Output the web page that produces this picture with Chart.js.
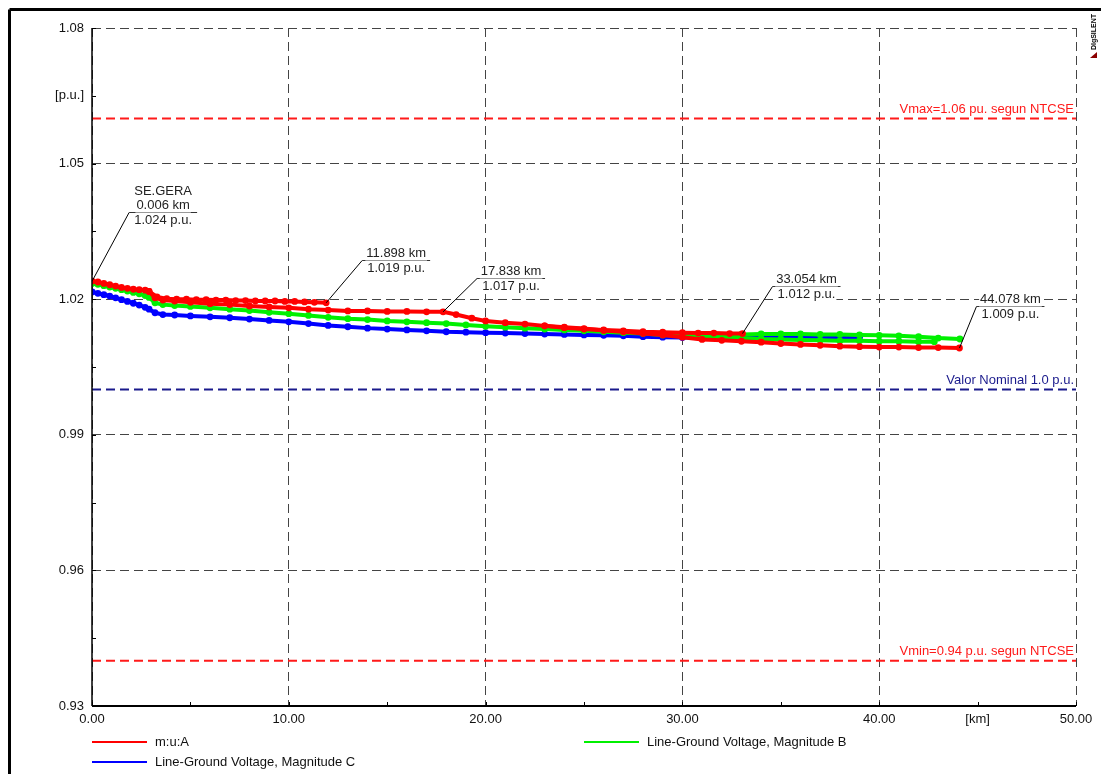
<!DOCTYPE html>
<html>
<head>
<meta charset="utf-8">
<script src="https://cdn.jsdelivr.net/npm/chart.js@4.4.0/dist/chart.umd.min.js"></script>
<style>
  html, body { margin: 0; padding: 0; background: #fff; }
  canvas { display: block; }
</style>
</head>
<body>
<canvas id="perfil" width="1101" height="774"></canvas>
<script>
// ---- data ----
// phase A (red) main feeder
var kmA = [0.006,0.3,0.6,0.9,1.2,1.5,1.8,2.1,2.4,2.7,2.9,3.2,3.6,4.2,5,6,7,8,9,10,11,12,13,14,15,16,17,17.838,18.5,19.3,20,21,22,23,24,25,26,27,28,29,30,31,32,33,34,35,36,37,38,39,40,41,42,43,44.078];
var puA = [1.024,1.0238,1.0235,1.0232,1.0229,1.0226,1.0224,1.0222,1.0221,1.0220,1.0217,1.0203,1.0198,1.0196,1.0193,1.0190,1.0188,1.0185,1.0183,1.0181,1.0178,1.0176,1.0174,1.0174,1.0173,1.0173,1.0172,1.0172,1.0166,1.0158,1.0152,1.0148,1.0145,1.0141,1.0138,1.0135,1.0131,1.0128,1.0124,1.0121,1.0116,1.0111,1.0109,1.0107,1.0105,1.0102,1.0100,1.0098,1.0096,1.0095,1.0094,1.0094,1.0093,1.0093,1.0092];
// phase A branches
var kmA1 = [2.9,3.3,3.8,4.3,4.8,5.3,5.8,6.3,6.8,7.3,7.8,8.3,8.8,9.3,9.8,10.3,10.8,11.3,11.898];
var puA1 = [1.0217,1.0205,1.0201,1.0200,1.0200,1.0199,1.0199,1.0198,1.0198,1.0197,1.0197,1.0196,1.0196,1.0196,1.0195,1.0195,1.0194,1.0193,1.0192];
var kmA2 = [23,24,25,26,27,28,29,30,30.8,31.6,32.4,33.054];
var puA2 = [1.0141,1.0137,1.0134,1.0132,1.0130,1.0128,1.0127,1.0126,1.0125,1.0125,1.0124,1.0124];

// phase B (green)
var kmB = [0.006,0.3,0.6,0.9,1.2,1.5,1.8,2.1,2.4,2.7,2.9,3.2,3.6,4.2,5,6,7,8,9,10,11,12,13,14,15,16,17,18,19,20,21,22,23,24,25,26,27,28,29,30,31,32,33,34,35,36,37,38,39,40,41,42,43,44.1];
var puB = [1.0235,1.0233,1.0230,1.0227,1.0224,1.0221,1.0218,1.0215,1.0212,1.0208,1.0204,1.0192,1.0188,1.0186,1.0184,1.0181,1.0178,1.0175,1.0171,1.0168,1.0164,1.0160,1.0157,1.0155,1.0152,1.0150,1.0148,1.0146,1.0143,1.0140,1.0138,1.0136,1.0134,1.0132,1.0130,1.0128,1.0126,1.0124,1.0121,1.0119,1.0119,1.0120,1.0122,1.0123,1.0123,1.0123,1.0122,1.0122,1.0121,1.0120,1.0119,1.0117,1.0114,1.0112];
var kmB1 = [31,32,33,34,35,36,37,38,39,40,41,42,42.8];
var puB1 = [1.0118,1.0116,1.0114,1.0112,1.0111,1.0110,1.0109,1.0108,1.0108,1.0107,1.0107,1.0106,1.0106];

// phase C (blue)
var kmC = [0.006,0.3,0.6,0.9,1.2,1.5,1.8,2.1,2.4,2.7,2.9,3.2,3.6,4.2,5,6,7,8,9,10,11,12,13,14,15,16,17,18,19,20,21,22,23,24,25,26,27,28,29,30,31,32,33,34,35,36,37,38,39];
var puC = [1.0216,1.0213,1.0210,1.0207,1.0203,1.0199,1.0195,1.0191,1.0187,1.0182,1.0178,1.0170,1.0166,1.0165,1.0163,1.0161,1.0159,1.0156,1.0153,1.0150,1.0146,1.0142,1.0139,1.0136,1.0134,1.0132,1.0130,1.0128,1.0127,1.0126,1.0125,1.0124,1.0123,1.0122,1.0121,1.0120,1.0119,1.0117,1.0116,1.0115,1.0115,1.0116,1.0117,1.0117,1.0117,1.0117,1.0116,1.0116,1.0116];

var seriesNames = ['m:u:A', 'Line-Ground Voltage, Magnitude B', 'Line-Ground Voltage, Magnitude C'];
var seriesColors = ['#ff0000', '#00f000', '#0000ff'];

// limits
var refLevels = [1.06, 1.0, 0.94];
var refLabels = ['Vmax=1.06 pu. segun NTCSE', 'Valor Nominal 1.0 p.u.', 'Vmin=0.94 p.u. segun NTCSE'];
var refColors = ['#ff1a1a', '#1a1a8c', '#ff1a1a'];

// labelled nodes
var annKm = [0.006, 11.898, 17.838, 33.054, 44.078];
var annPu = [1.024, 1.0192, 1.0172, 1.0124, 1.0092];
var annName = ['SE.GERA', '', '', '', ''];

// axis
var xMin = 0, xMax = 50, xStep = 5;
var yMin = 0.93, yMax = 1.08, yStep = 0.015;
var xUnit = '[km]', yUnit = '[p.u.]';

var FONT = '"Liberation Sans", Arial, sans-serif';
Chart.defaults.font.family = FONT;
Chart.defaults.font.size = 13;
Chart.defaults.color = '#111';

function pts(km, pu)
{
	return km.map(function(k, i) { return { x: k, y: pu[i] }; });
}

function trace(km, pu, color)
{
	return {
		data: pts(km, pu),
		borderColor: color,
		backgroundColor: color,
		borderWidth: 4,
		pointRadius: 3.4,
		pointBorderWidth: 0,
		pointBackgroundColor: color,
		pointHoverRadius: 0
	};
}

function refLine(v, color)
{
	return {
		data: [{ x: xMin, y: v }, { x: xMax, y: v }],
		borderColor: color,
		borderWidth: 2,
		borderDash: [9, 5],
		pointRadius: 0
	};
}

var datasets = [
	trace(kmA, puA, seriesColors[0]),
	trace(kmA1, puA1, seriesColors[0]),
	trace(kmA2, puA2, seriesColors[0]),
	trace(kmB, puB, seriesColors[1]),
	trace(kmB1, puB1, seriesColors[1]),
	trace(kmC, puC, seriesColors[2])
];
refLevels.forEach(function(v, i) { datasets.push(refLine(v, refColors[i])); });

function isMajorY(v) { return Math.round((v - yMin) * 1000) % 30 === 0; }
function isMajorX(v) { return Math.round(v) % 10 === 0; }

function line(ctx, x1, y1, x2, y2)
{
	ctx.beginPath(); ctx.moveTo(x1, y1); ctx.lineTo(x2, y2); ctx.stroke();
}

function boxText(ctx, txt, cx, cy)
{
	var w = ctx.measureText(txt).width;
	ctx.fillStyle = '#fff';
	ctx.fillRect(cx - w / 2 - 1, cy - 7, w + 2, 14);
	ctx.fillStyle = '#222';
	ctx.fillText(txt, cx, cy);
}

// extra drawing: axes, limits labels, node labels, legend, frame
var decor = {
	id: 'decor',
	afterDraw: function(chart)
	{
		var ctx = chart.ctx, a = chart.chartArea, xs = chart.scales.x, ys = chart.scales.y;
		ctx.save();
		ctx.setLineDash([]);
		ctx.strokeStyle = '#000';

		// axis lines
		ctx.lineWidth = 1.5;
		line(ctx, a.left, a.top, a.left, a.bottom);
		ctx.lineWidth = 2;
		line(ctx, a.left, a.bottom, a.right, a.bottom);

		// inner tick marks
		ctx.lineWidth = 1;
		ys.ticks.forEach(function(t) {
			var py = Math.round(ys.getPixelForValue(t.value)) + 0.5;
			line(ctx, a.left, py, a.left + 4, py);
		});
		xs.ticks.forEach(function(t) {
			var px = Math.round(xs.getPixelForValue(t.value)) + 0.5;
			line(ctx, px, a.bottom, px, a.bottom - 4);
		});

		// limit labels
		ctx.font = '13px ' + FONT;
		ctx.textAlign = 'right';
		ctx.textBaseline = 'middle';
		refLevels.forEach(function(v, i) {
			ctx.fillStyle = refColors[i];
			ctx.fillText(refLabels[i], a.right - 2, ys.getPixelForValue(v) - 9);
		});

		// node labels with leader lines
		var off = [[37, -69], [36, -43], [34, -34], [30, -48], [17, -42]];
		var uw = 68;
		ctx.textAlign = 'center';
		annKm.forEach(function(k, i) {
			var px = xs.getPixelForValue(k), py = ys.getPixelForValue(annPu[i]);
			var ux = px + off[i][0], uy = Math.round(py + off[i][1]) + 0.5;
			ctx.strokeStyle = '#000';
			ctx.lineWidth = 1;
			line(ctx, px, py, ux, uy);
			ctx.strokeStyle = '#333';
			line(ctx, ux, uy, ux + uw, uy);
			var cx = ux + uw / 2;
			boxText(ctx, k.toFixed(3) + ' km', cx, uy - 7);
			boxText(ctx, annPu[i].toFixed(3) + ' p.u.', cx, uy + 8);
			if (annName[i]) boxText(ctx, annName[i], cx, uy - 21);
		});

		// legend
		var lg = [[92, 742], [584, 742], [92, 762]];
		ctx.textAlign = 'left';
		ctx.lineWidth = 2;
		seriesNames.forEach(function(n, i) {
			ctx.strokeStyle = seriesColors[i];
			line(ctx, lg[i][0], lg[i][1], lg[i][0] + 55, lg[i][1]);
			ctx.fillStyle = '#111';
			ctx.fillText(n, lg[i][0] + 63, lg[i][1]);
		});

		// outer frame
		ctx.strokeStyle = '#000';
		ctx.lineWidth = 3;
		line(ctx, 9.5, 9.5, 1101, 9.5);
		line(ctx, 9.5, 9.5, 9.5, 774);

		// logo
		ctx.save();
		ctx.translate(1094, 32);
		ctx.rotate(-Math.PI / 2);
		ctx.font = 'bold 7px ' + FONT;
		ctx.textAlign = 'center';
		ctx.fillStyle = '#000';
		ctx.fillText('DIgSILENT', 0, 0);
		ctx.restore();
		ctx.fillStyle = '#8b0000';
		ctx.beginPath();
		ctx.moveTo(1097, 52); ctx.lineTo(1097, 58); ctx.lineTo(1090, 58); ctx.closePath();
		ctx.fill();

		ctx.restore();
	}
};

var gridDash = [9, 5];

var config =
{
	type: 'line',
	data: { datasets: datasets },
	plugins: [decor],
	options:
	{
		responsive: false,
		animation: false,
		events: [],
		layout: { padding: { left: 0, top: 28, right: 25, bottom: 43 } },
		plugins:
		{
			legend: { display: false },
			tooltip: { enabled: false }
		},
		scales:
		{
			x:
			{
				type: 'linear',
				min: xMin,
				max: xMax,
				afterFit: function(s) { s.height = 25; },
				ticks:
				{
					stepSize: xStep,
					autoSkip: false,
					maxRotation: 0,
					padding: 6,
					color: '#111',
					callback: function(v) {
						if (Math.round(v) === 45) return xUnit;
						return isMajorX(v) ? Number(v).toFixed(2) : '';
					}
				},
				grid:
				{
					drawTicks: false,
					lineWidth: 1,
					color: function(c) { return isMajorX(c.tick.value) ? '#444' : 'rgba(0,0,0,0)'; }
				},
				border: { display: false, dash: gridDash }
			},
			y:
			{
				type: 'linear',
				min: yMin,
				max: yMax,
				afterFit: function(s) { s.width = 92; },
				ticks:
				{
					stepSize: yStep,
					autoSkip: false,
					padding: 8,
					color: '#111',
					callback: function(v) {
						if (Math.round(v * 1000) === 1065) return yUnit;
						return isMajorY(v) ? Number(v).toFixed(2) : '';
					}
				},
				grid:
				{
					drawTicks: false,
					lineWidth: 1,
					color: function(c) { return isMajorY(c.tick.value) ? '#444' : 'rgba(0,0,0,0)'; }
				},
				border: { display: false, dash: gridDash }
			}
		}
	}
};

var perfilChart = new Chart(document.getElementById('perfil').getContext('2d'), config);
</script>
</body>
</html>
